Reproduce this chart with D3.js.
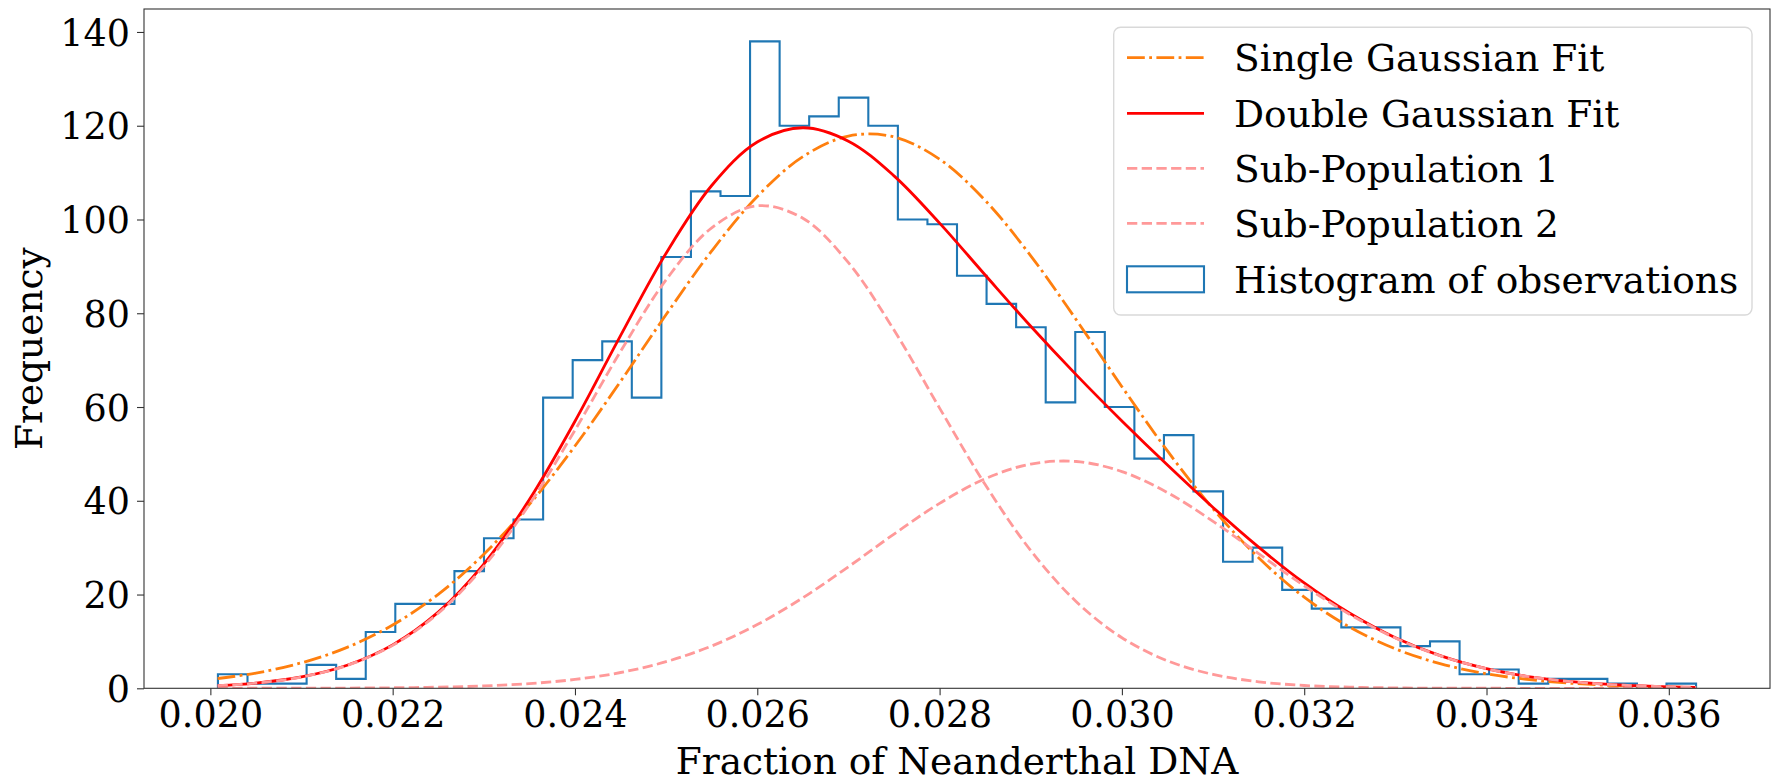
<!DOCTYPE html>
<html>
<head>
<meta charset="utf-8">
<script src="https://cdn.jsdelivr.net/npm/d3@7"></script>
<style>
  html, body { margin: 0; padding: 0; background: #fff; }
  svg { display: block; }
  text { font-family: "DejaVu Serif", serif; fill: #000; }
</style>
</head>
<body>
<svg id="chart" width="1772" height="782"></svg>
<script>
// ---------------- data ----------------
const histStart = 0.020083;       // left edge of first bin
const histEnd = 0.036299;         // right edge of last bin
const histCounts = [3,1,1,5,2,12,18,18,25,32,
                    36,62,70,74,62,92,106,105,138,120,
                    122,126,120,100,99,88,82,77,61,76,
                    60,49,54,42,27,30,21,17,13,13,
                    9,10,3,4,1,2,2,1,0,1];

const curveX = [0.02008,0.0205,0.0210,0.0215,0.0220,0.0225,0.0230,0.0235,0.0240,0.0245,
                0.0250,0.0255,0.0260,0.0265,0.0270,0.0275,0.0280,0.0285,0.0290,0.0295,
                0.0300,0.0305,0.0310,0.0315,0.0320,0.0325,0.0330,0.0335,0.0340,0.0345,
                0.0350,0.0355,0.0360,0.03630];
const singleFit = [2.09,3.25,5.44,8.73,13.50,20.05,28.60,39.22,51.69,65.47,
                   79.72,93.29,104.91,113.40,117.80,117.62,112.86,104.08,92.26,78.59,
                   64.34,50.63,38.29,27.84,19.44,13.05,8.42,5.22,3.11,1.78,
                   0.98,0.52,0.26,0.17];
const doubleFit = [0.56,1.12,2.43,4.92,9.27,16.25,26.50,40.25,56.96,75.22,
                   92.82,107.25,116.52,119.57,116.71,109.31,99.22,88.16,77.22,66.85,
                   57.02,47.61,38.58,30.11,22.47,16.00,10.80,6.91,4.19,2.40,
                   1.30,0.67,0.32,0.20];
const subPop1 = [0.56,1.11,2.41,4.87,9.16,16.01,26.00,39.25,55.07,71.85,
                 87.14,98.22,102.93,100.26,90.78,76.41,59.77,43.47,29.39,18.47,
                 10.79,5.86,2.96,1.39,0.60,0.25,0.09,0.03,0.01,0,
                 0,0,0,0];
const subPop2 = [0.00,0.01,0.02,0.05,0.11,0.24,0.50,1.00,1.89,3.37,
                 5.68,9.03,13.59,19.31,25.93,32.90,39.45,44.69,47.83,48.38,
                 46.23,41.75,35.62,28.72,21.87,15.75,10.71,6.88,4.18,2.40,
                 1.30,0.67,0.32,0.20];

const xTicks = [0.020,0.022,0.024,0.026,0.028,0.030,0.032,0.034,0.036];
const yTicks = [0,20,40,60,80,100,120,140];
const legendLabels = ["Single Gaussian Fit","Double Gaussian Fit","Sub-Population 1","Sub-Population 2","Histogram of observations"];
const xLabel = "Fraction of Neanderthal DNA";
const yLabel = "Frequency";

// ---------------- layout ----------------
const L = 144, R = 1770, T = 9, B = 688.3;
const FS = 36.5;     // tick labels
const FL = 37.5;     // axis labels and legend
const svg = d3.select("#chart");
svg.append("rect").attr("width",1772).attr("height",782).attr("fill","#fff");

const x = d3.scaleLinear().domain([0.019272, 0.037110]).range([L, R]);
const y = d3.scaleLinear().domain([0, 144.9]).range([B, T]);

svg.append("clipPath").attr("id","plotclip")
  .append("rect").attr("x",L).attr("y",T).attr("width",R-L).attr("height",B-T);

const plot = svg.append("g").attr("clip-path","url(#plotclip)");

// histogram step outline
const nb = histCounts.length;
const bw = (histEnd - histStart) / nb;
const edges = d3.range(nb + 1).map(i => histStart + i * bw);
const stepPts = [[edges[0], 0]];
histCounts.forEach((c, i) => { stepPts.push([edges[i], c]); stepPts.push([edges[i+1], c]); });
stepPts.push([edges[nb], 0]);
plot.append("path")
  .attr("d", d3.line().x(d => x(d[0])).y(d => y(d[1]))(stepPts))
  .attr("fill","none").attr("stroke","#1f77b4").attr("stroke-width",2.1)
  .attr("stroke-linejoin","miter");

const line = d3.line().x((d,i) => x(curveX[i])).y(d => y(d)).curve(d3.curveCatmullRom.alpha(0.5));
const styles = [
  {data: singleFit, color: "#ff7f0e", dash: "17.8,4.4,2.8,4.4", w: 2.8},
  {data: doubleFit, color: "#ff0000", dash: null, w: 2.8},
  {data: subPop1, color: "#ff9999", dash: "10.3,4.4", w: 2.8},
  {data: subPop2, color: "#ff9999", dash: "10.3,4.4", w: 2.8}
];
styles.forEach(s => {
  const p = plot.append("path").attr("d", line(s.data))
    .attr("fill","none").attr("stroke", s.color).attr("stroke-width", s.w);
  if (s.dash) p.attr("stroke-dasharray", s.dash);
});

// axes
const xAxis = d3.axisBottom(x).tickValues(xTicks).tickFormat(d3.format(".3f")).tickSizeOuter(0).tickSize(7).tickPadding(6);
const yAxis = d3.axisLeft(y).tickValues(yTicks).tickFormat(d3.format("d")).tickSizeOuter(0).tickSize(7).tickPadding(7);
const gx = svg.append("g").attr("transform",`translate(0,${B})`).call(xAxis);
const gy = svg.append("g").attr("transform",`translate(${L},0)`).call(yAxis);
[gx, gy].forEach(g => {
  g.select(".domain").remove();
  g.selectAll(".tick line").attr("stroke","#333").attr("stroke-width",1.1);
  g.selectAll(".tick text").style("font-family","DejaVu Serif").style("font-size", FS + "px").attr("fill","#000");
});
gy.selectAll(".tick text").attr("dy","0.36em");

// frame
svg.append("rect").attr("x",L).attr("y",T).attr("width",R-L).attr("height",B-T)
  .attr("fill","none").attr("stroke","#333").attr("stroke-width",1.1);

// axis labels
svg.append("text").attr("x",(L+R)/2).attr("y",774).attr("text-anchor","middle")
  .style("font-size", FL + "px").text(xLabel);
svg.append("text").attr("transform",`translate(42,${(T+B)/2}) rotate(-90)`).attr("text-anchor","middle")
  .style("font-size", FL + "px").text(yLabel);

// legend
const lg = svg.append("g");
lg.append("rect").attr("x",1113.7).attr("y",27.3).attr("width",1752-1113.7).attr("height",315-27.3)
  .attr("rx",7).attr("ry",7).attr("fill","#fff").attr("fill-opacity",0.8)
  .attr("stroke","#d9d9d9").attr("stroke-width",1.4);
const rowY = [57.7, 113.3, 168.3, 223.3, 279.3];
const hx0 = 1127, hx1 = 1204;
legendLabels.forEach((lab, i) => {
  const cy = rowY[i];
  if (i < 4) {
    const s = styles[i];
    const p = lg.append("line").attr("x1",hx0).attr("x2",hx1).attr("y1",cy).attr("y2",cy)
      .attr("stroke", s.color).attr("stroke-width", s.w);
    if (s.dash) p.attr("stroke-dasharray", s.dash);
  } else {
    lg.append("rect").attr("x",hx0).attr("y",cy-13).attr("width",hx1-hx0).attr("height",26)
      .attr("fill","none").attr("stroke","#1f77b4").attr("stroke-width",2.1);
  }
  lg.append("text").attr("x",1234).attr("y",cy).attr("dy","0.36em")
    .style("font-size", FL + "px").text(lab);
});
</script>
</body>
</html>
